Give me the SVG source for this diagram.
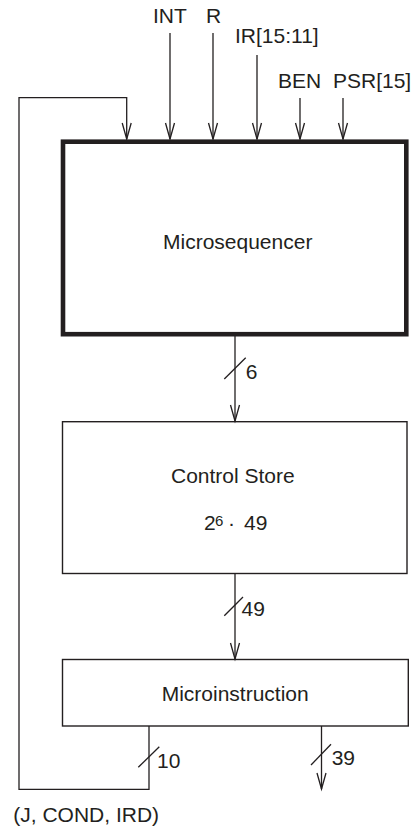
<svg xmlns="http://www.w3.org/2000/svg" width="414" height="828" viewBox="0 0 414 828">
<style>
text{font-family:"Liberation Sans",Arial,Helvetica,sans-serif;font-size:21px;fill:#231f20}
.box{fill:none;stroke:#231f20;stroke-width:1.4}
.thick{fill:none;stroke:#231f20;stroke-width:4.6}
.wire{fill:none;stroke:#231f20;stroke-width:1.3}
</style>
<defs>
<marker id="arr" viewBox="-17 -6 18 12" markerWidth="18" markerHeight="12" refX="0" refY="0" markerUnits="userSpaceOnUse" orient="auto" overflow="visible">
<path d="M-16,-4.5 L0,0 L-16,4.5" fill="none" stroke="#231f20" stroke-width="1.3"/>
</marker>
</defs>
<rect width="414" height="828" fill="#fff"/>
<g id="connectors">
<path class="wire" d="M149,726 V789.3 H19 V97.7 H126.7 V139" marker-end="url(#arr)"/>
<path class="wire" d="M170,33 V139" marker-end="url(#arr)"/>
<path class="wire" d="M213,33 V139" marker-end="url(#arr)"/>
<path class="wire" d="M257,55 V139" marker-end="url(#arr)"/>
<path class="wire" d="M300,98 V139" marker-end="url(#arr)"/>
<path class="wire" d="M343,98 V139" marker-end="url(#arr)"/>
<path class="wire" d="M235,336 V421" marker-end="url(#arr)"/>
<path class="wire" d="M224.3,379 L245.7,357.7"/>
<path class="wire" d="M235,573.5 V659" marker-end="url(#arr)"/>
<path class="wire" d="M224.3,615.7 L243,597"/>
<path class="wire" d="M138.3,767.3 L159.3,746.7"/>
<path class="wire" d="M321.5,726 V789" marker-end="url(#arr)"/>
<path class="wire" d="M311,765 L331,744.3"/>
</g>
<g id="inputs">
<text x="153" y="23">INT</text>
<text x="206" y="23">R</text>
<text x="235" y="43.3">IR[15:11]</text>
<text x="278" y="87.7">BEN</text>
<text x="333" y="87.7">PSR[15]</text>
</g>
<g id="microsequencer">
<rect class="thick" x="63" y="141.7" width="343.3" height="192.5"/>
<text x="163" y="249">Microsequencer</text>
</g>
<g id="control-store">
<rect class="box" x="62.5" y="421.7" width="344.5" height="151.8"/>
<text x="171" y="482.7">Control Store</text>
<text x="204" y="530">2<tspan x="215" y="526" font-size="15">6</tspan><tspan x="228" y="530">·</tspan><tspan x="244" y="530">49</tspan></text>
</g>
<g id="microinstruction">
<rect class="box" x="62.5" y="659.5" width="345.8" height="66.5"/>
<text x="161.7" y="700.7">Microinstruction</text>
</g>
<g id="labels">
<text x="245.7" y="379">6</text>
<text x="241.5" y="616">49</text>
<text x="157" y="767.7">10</text>
<text x="331.7" y="765">39</text>
<text x="13.3" y="821.7">(J, COND, IRD)</text>
</g>
</svg>
